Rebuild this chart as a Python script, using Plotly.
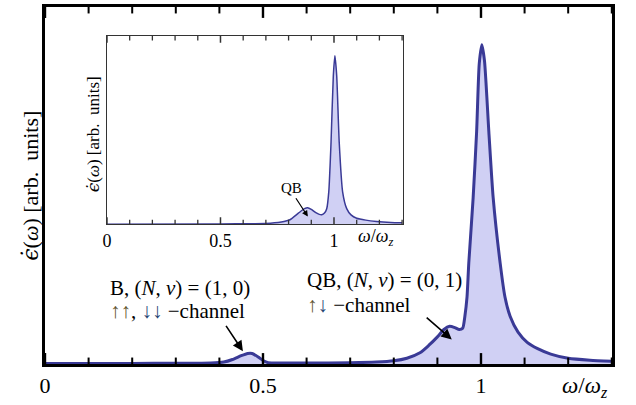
import numpy as np
import plotly.graph_objects as go

# ---------------- data ----------------
main_x = [0.00, 0.10, 0.20, 0.30, 0.38, 0.41, 0.43, 0.45, 0.465, 0.475, 0.49, 0.50, 0.512,
          0.54, 0.60, 0.70, 0.76, 0.80, 0.83, 0.86, 0.88, 0.90, 0.915, 0.928, 0.940, 0.950,
          0.958, 0.963, 0.968, 0.972, 0.982, 0.990, 0.996, 1.002, 1.008, 1.018, 1.028,
          1.044, 1.055, 1.067, 1.085, 1.106, 1.13, 1.16, 1.20, 1.25, 1.30]
main_y = [0.0015, 0.0015, 0.0018, 0.0022, 0.003, 0.006, 0.014, 0.026, 0.033, 0.033, 0.021,
          0.011, 0.004, 0.003, 0.003, 0.004, 0.006, 0.010, 0.018, 0.035, 0.058, 0.085, 0.108,
          0.118, 0.114, 0.108, 0.112, 0.149, 0.21, 0.316, 0.52, 0.728, 0.94, 1.0, 0.95, 0.728,
          0.52, 0.316, 0.21, 0.149, 0.10, 0.068, 0.048, 0.031, 0.018, 0.012, 0.009]

inset_x = [0.00, 0.50, 0.65, 0.72, 0.78, 0.806, 0.843, 0.870, 0.884, 0.90, 0.92, 0.935, 0.946,
           0.958, 0.968, 0.977, 0.987, 0.997, 1.004, 1.012, 1.023, 1.038, 1.056, 1.075, 1.10,
           1.14, 1.188, 1.25, 1.30]
inset_y = [0.0, 0.001, 0.003, 0.006, 0.016, 0.026, 0.065, 0.092, 0.098, 0.088, 0.068, 0.058,
           0.056, 0.066, 0.092, 0.192, 0.486, 0.88, 1.0, 0.88, 0.486, 0.192, 0.092, 0.055,
           0.035, 0.024, 0.016, 0.010, 0.008]

major_step = 0.5
minor_step = 0.1
x_max = 1.30
y_top = 1.118

LINE = "rgb(58,58,150)"
FILL = "rgba(208,208,244,1)"
FONT = "Liberation Serif, DejaVu Serif, serif"
EPS = "<span style='font-family:DejaVu Serif'><i>ϵ̇</i></span>"

fig = go.Figure()
fig.add_trace(go.Scatter(x=main_x, y=main_y, mode="lines", fill="tozeroy",
                         fillcolor=FILL, line=dict(color=LINE, width=3, shape="spline", smoothing=0.6),
                         xaxis="x", yaxis="y", hoverinfo="skip"))
fig.add_trace(go.Scatter(x=inset_x, y=inset_y, mode="lines", fill="tozeroy",
                         fillcolor=FILL, line=dict(color=LINE, width=1.5, shape="spline", smoothing=0.6),
                         xaxis="x2", yaxis="y2", hoverinfo="skip"))

# tick marks drawn as line segments (inside, bottom and top of each box)
tick_pos = [float(v) for v in np.round(np.arange(0, x_max + 1e-9, minor_step), 3)]
def tick_traces(xa, ya, plot_px, len_major, len_minor, col, w_major, w_minor):
    for is_major, L, W in [(True, len_major, w_major), (False, len_minor, w_minor)]:
        dy = L / plot_px * y_top
        xs, ys = [], []
        for t in tick_pos:
            m = abs(t / major_step - round(t / major_step)) < 1e-6
            if m != is_major:
                continue
            xs += [t, t, None, t, t, None]
            ys += [0.0, dy, None, y_top, y_top - dy, None]
        fig.add_trace(go.Scatter(x=xs, y=ys, mode="lines", line=dict(color=col, width=W),
                                 connectgaps=False, xaxis=xa, yaxis=ya, hoverinfo="skip"))

tick_traces("x", "y", 360, 11, 6.5, "black", 2.4, 2)
tick_traces("x2", "y2", 190, 7, 4.5, "#333", 1.5, 1.3)

fig.update_layout(
    width=636, height=405,
    margin=dict(l=45, r=24, t=4, b=41),
    paper_bgcolor="white", plot_bgcolor="white",
    showlegend=False,
    font=dict(family=FONT, color="black"),
    xaxis=dict(domain=[0, 1], range=[0, 1.3005], showgrid=False, zeroline=False,
               showline=True, linecolor="black", linewidth=2.5, mirror=True,
               ticks="", tickmode="linear", tick0=0, dtick=major_step,
               tickfont=dict(size=22, family=FONT)),
    yaxis=dict(domain=[0, 1], range=[0, y_top], showgrid=False, zeroline=False,
               showline=True, linecolor="black", linewidth=2.5, mirror=True,
               showticklabels=False, ticks=""),
    xaxis2=dict(domain=[0.1093, 0.6314], range=[0, 1.304], anchor="y2", showgrid=False,
                zeroline=False, showline=True, linecolor="#333", linewidth=1, mirror=True,
                ticks="", tickmode="linear", tick0=0, dtick=major_step,
                tickfont=dict(size=18, family=FONT)),
    yaxis2=dict(domain=[0.3917, 0.919], range=[0, y_top], anchor="x2", showgrid=False,
                zeroline=False, showline=True, linecolor="#333", linewidth=1, mirror=True,
                showticklabels=False, ticks=""),
)

UP = "<span style='color:rgb(95,85,45)'>↑</span>"
DN = "<span style='color:rgb(40,70,115)'>↓</span>"

ann = []
ann.append(dict(text="<i>ω</i>/<i>ω<sub>z</sub></i>", xref="x", yref="paper", x=1.296, y=-0.064,
                xanchor="right", yanchor="middle", showarrow=False, font=dict(size=23, family=FONT)))
ann.append(dict(text=EPS + "(<i>ω</i>) [arb.  units]", xref="paper", yref="paper",
                x=-0.026, y=0.5, xanchor="center", yanchor="middle", textangle=-90,
                showarrow=False, font=dict(size=22, family=FONT)))
ann.append(dict(text="<i>ω</i>/<i>ω<sub>z</sub></i>", xref="x2", yref="paper", x=1.097, y=0.354,
                xanchor="left", yanchor="middle", showarrow=False, font=dict(size=18, family=FONT)))
ann.append(dict(text=EPS + "(<i>ω</i>) [arb.  units]", xref="paper", yref="paper",
                x=0.085, y=0.644, xanchor="center", yanchor="middle", textangle=-90,
                showarrow=False, font=dict(size=17, family=FONT)))
ann.append(dict(text="B, (<i>N</i>, <i>ν</i>) = (1, 0)", xref="x", yref="y", x=0.144, y=0.238,
                xanchor="left", yanchor="middle", showarrow=False, font=dict(size=21, family=FONT)))
ann.append(dict(text=UP + UP + ", " + DN + DN + " −channel", xref="x", yref="y", x=0.144, y=0.167,
                xanchor="left", yanchor="middle", showarrow=False, font=dict(size=21, family=FONT)))
ann.append(dict(text="", xref="x", yref="y", x=0.454, y=0.040, ax=0.413, ay=0.124,
                axref="x", ayref="y", showarrow=True, arrowhead=2, arrowsize=1.3, arrowwidth=1.6,
                arrowcolor="black"))
ann.append(dict(text="QB, (<i>N</i>, <i>ν</i>) = (0, 1)", xref="x", yref="y", x=0.596, y=0.263,
                xanchor="left", yanchor="middle", showarrow=False, font=dict(size=21, family=FONT)))
ann.append(dict(text=UP + DN + " −channel", xref="x", yref="y", x=0.596, y=0.186,
                xanchor="left", yanchor="middle", showarrow=False, font=dict(size=21, family=FONT)))
ann.append(dict(text="", xref="x", yref="y", x=0.933, y=0.077, ax=0.872, ay=0.149,
                axref="x", ayref="y", showarrow=True, arrowhead=2, arrowsize=1.3, arrowwidth=1.6,
                arrowcolor="black"))
ann.append(dict(text="QB", xref="x2", yref="y2", x=0.815, y=0.215, xanchor="center", yanchor="middle",
                showarrow=False, font=dict(size=15, family=FONT)))
ann.append(dict(text="", xref="x2", yref="y2", x=0.885, y=0.045, ax=0.828, ay=0.163,
                axref="x2", ayref="y2", showarrow=True, arrowhead=2, arrowsize=1, arrowwidth=1.2,
                arrowcolor="black"))
fig.update_layout(annotations=ann)

fig.write_html("out.html")
